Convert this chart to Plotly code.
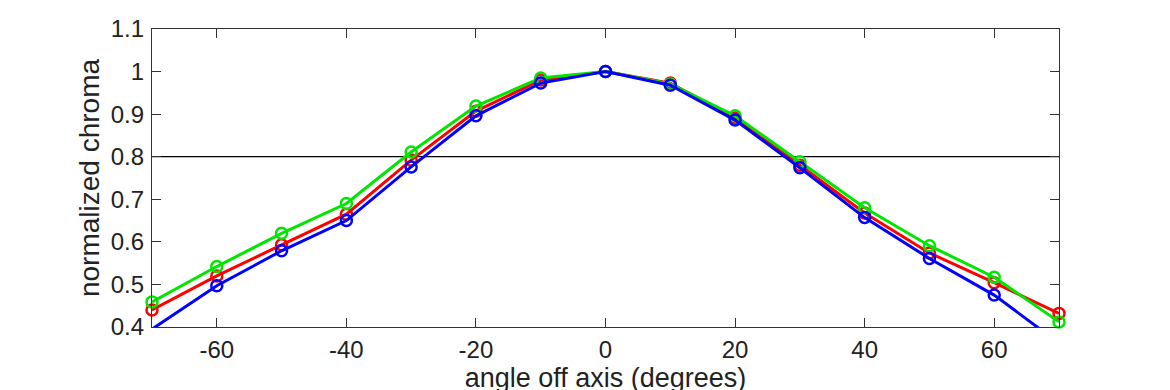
import plotly.graph_objects as go

angles = [-70, -60, -50, -40, -30, -20, -10, 0, 10, 20, 30, 40, 50, 60, 70]
red_vals = [0.440, 0.520, 0.593, 0.665, 0.792, 0.907, 0.980, 1.000, 0.973, 0.891, 0.780, 0.668, 0.574, 0.504, 0.432]
green_vals = [0.459, 0.542, 0.620, 0.690, 0.811, 0.919, 0.985, 1.000, 0.971, 0.896, 0.788, 0.680, 0.591, 0.517, 0.412]
blue_vals = [0.395, 0.497, 0.579, 0.650, 0.776, 0.896, 0.973, 1.000, 0.968, 0.886, 0.774, 0.657, 0.561, 0.475, 0.362]

x_ticks = [-60, -40, -20, 0, 20, 40, 60]
x_tick_text = ["-60", "-40", "-20", "0", "20", "40", "60"]
y_ticks = [0.4, 0.5, 0.6, 0.7, 0.8, 0.9, 1.0, 1.1]
y_tick_text = ["0.4", "0.5", "0.6", "0.7", "0.8", "0.9", "1", "1.1"]
threshold = 0.8

FONT = "Liberation Sans, Arial, Helvetica, sans-serif"
TXT = "#222222"

fig = go.Figure()
series = [
    ("red", red_vals, "#ff0000", False),
    ("green", green_vals, "#00e600", False),
    ("blue", blue_vals, "#0000ff", True),
]
for name, vals, col, clip in series:
    fig.add_trace(go.Scatter(
        x=angles, y=vals, mode="lines+markers", name=name,
        line=dict(color=col, width=3),
        marker=dict(symbol="circle-open", size=11, color=col, line=dict(width=2.5, color=col)),
        cliponaxis=clip, showlegend=False,
    ))

fig.add_hline(y=threshold, line=dict(color="black", width=1.2), layer="below")

fig.update_layout(
    width=1170, height=390,
    margin=dict(l=144, r=119, t=21, b=71, autoexpand=False),
    paper_bgcolor="white", plot_bgcolor="white",
    font=dict(family=FONT, color=TXT, size=24),
)
fig.update_xaxes(
    range=[-70, 70], tickvals=x_ticks, ticktext=x_tick_text,
    ticks="inside", ticklen=9, tickwidth=1, tickcolor="#333333",
    showline=True, linecolor="#333333", linewidth=1.2, mirror="ticks",
    showgrid=False, zeroline=False,
    tickfont=dict(size=24, family=FONT, color=TXT),
    title=dict(text="angle off axis (degrees)", font=dict(size=27, family=FONT, color=TXT), standoff=0),
    automargin=False, ticklabelstandoff=1,
)
fig.update_yaxes(
    range=[0.4, 1.1], tickvals=y_ticks, ticktext=y_tick_text,
    ticks="inside", ticklen=9, tickwidth=1, tickcolor="#333333",
    showline=True, linecolor="#333333", linewidth=1.2, mirror="ticks",
    showgrid=False, zeroline=False,
    tickfont=dict(size=24, family=FONT, color=TXT),
    title=dict(text="normalized chroma", font=dict(size=28, family=FONT, color=TXT), standoff=2),
    automargin=False, ticklabelstandoff=2,
)

fig.write_html("out.html")
